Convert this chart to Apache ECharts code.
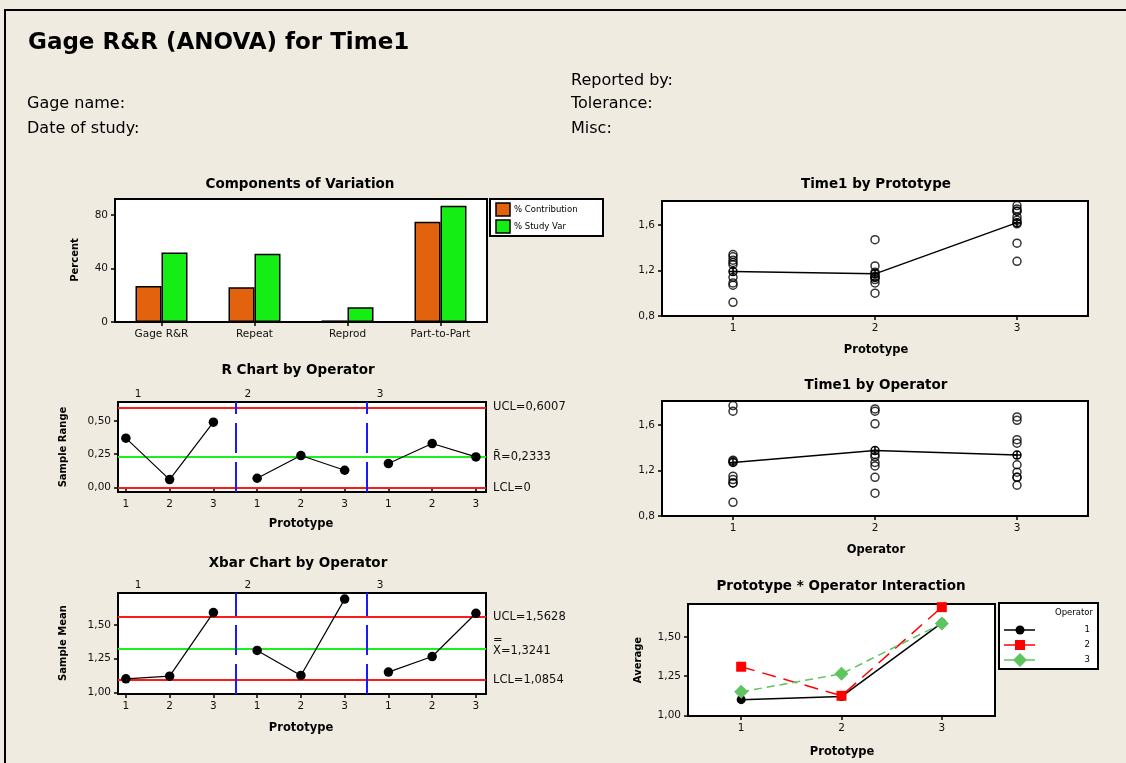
<!DOCTYPE html>
<html>
<head>
<meta charset="utf-8">
<script src="https://cdn.jsdelivr.net/npm/echarts@6/dist/echarts.min.js"></script>
<style>
  html, body { margin: 0; padding: 0; background: #EFEBE1; }
  #main { width: 1126px; height: 763px; }
</style>
</head>
<body>
<div id="main"></div>
<script>
// ---- Study data -------------------------------------------------------
const components = ['Gage R&R', 'Repeat', 'Reprod', 'Part-to-Part'];
const pctContribution = [27, 26, 1.2, 75];
const pctStudyVar = [52, 51, 11, 87];

const operators = ['1', '2', '3'];
const prototypes = ['1', '2', '3'];

// Three repeated timings for each prototype, one list per operator
const trialsOp1 = [[0.92, 1.09, 1.29], [1.09, 1.12, 1.15], [1.28, 1.72, 1.77]];
const trialsOp2 = [[1.27, 1.32, 1.34], [1.00, 1.14, 1.24], [1.61, 1.72, 1.74]];
const trialsOp3 = [[1.07, 1.14, 1.25], [1.14, 1.185, 1.47], [1.44, 1.64, 1.67]];

const prototypeMeans = [1.19, 1.17, 1.62];
const operatorMeans = [1.27, 1.375, 1.335];

// Subgroup ranges and means (operator x prototype)
const rangesOp1 = [0.37, 0.06, 0.49];
const rangesOp2 = [0.07, 0.24, 0.13];
const rangesOp3 = [0.18, 0.33, 0.23];
const meansOp1 = [1.10, 1.12, 1.59];
const meansOp2 = [1.31, 1.125, 1.69];
const meansOp3 = [1.15, 1.265, 1.585];

// Control limits
const rUCL = 0.6007, rBar = 0.2333, rLCL = 0;
const xUCL = 1.5628, xBarBar = 1.3241, xLCL = 1.0854;

// Tick values
const percentTicks = [0, 40, 80];
const timeTicks = [0.8, 1.2, 1.6];
const rangeTicks = [0, 0.25, 0.5];
const meanTicks = [1, 1.25, 1.5];

// ---- Helpers ----------------------------------------------------------
const FONT = '"DejaVu Sans", sans-serif';
const INK = '#111';
const fmt = (v, d) => v.toFixed(d).replace('.', ',');

const trials = [trialsOp1, trialsOp2, trialsOp3];
const ranges = [rangesOp1, rangesOp2, rangesOp3];
const means = [meansOp1, meansOp2, meansOp3];

// where the operator captions sit along the subgroup axis
const opCaptionAt = [1.28, 3.79, 6.81];

function txt(x, y, s, o) {
  o = o || {};
  const font = (o.bold ? 'bold ' : '') + (o.size || 12) + 'px ' + FONT;
  return {
    type: 'text', x: x, y: y, rotation: o.rot || 0, silent: true, z: 10,
    style: {
      text: s, font: font, fill: o.color || '#000',
      align: o.align || 'left', verticalAlign: o.valign || 'middle',
      textAlign: o.align || 'left', textVerticalAlign: o.valign || 'middle'
    }
  };
}

function valueAxis(grid, min, max, ticks, formatter, extra) {
  return Object.assign({
    type: 'value', gridIndex: grid, min: min, max: max,
    axisLine: { show: false },
    splitLine: { show: false },
    axisTick: { show: true, length: 4, lineStyle: { color: '#000', width: 1.5 }, customValues: ticks },
    axisLabel: { customValues: ticks, formatter: formatter, fontSize: 10.5, color: INK, fontFamily: FONT, margin: 7 }
  }, extra || {});
}

function opTopAxis(grid, min, max) {
  return {
    type: 'value', gridIndex: grid, position: 'top', min: min, max: max,
    axisLine: { show: false }, splitLine: { show: false },
    axisTick: { show: false },
    axisLabel: { customValues: opCaptionAt,
      formatter: v => operators[opCaptionAt.indexOf(v)],
      fontSize: 10.5, color: INK, fontFamily: FONT, margin: 2 }
  };
}

const gridStyle = { show: true, backgroundColor: '#fff', borderColor: '#000', borderWidth: 2 };

// ---- Series -----------------------------------------------------------
const series = [];

series.push({
  type: 'bar', name: '% Contribution', xAxisIndex: 0, yAxisIndex: 0,
  data: pctContribution, barWidth: 26, barGap: '0%',
  itemStyle: { color: '#E2620E', borderColor: '#000', borderWidth: 1.5 }
});
series.push({
  type: 'bar', name: '% Study Var', xAxisIndex: 0, yAxisIndex: 0,
  data: pctStudyVar, barWidth: 26, barGap: '0%',
  itemStyle: { color: '#14EE14', borderColor: '#000', borderWidth: 1.5 }
});

const ringStyle = { color: 'rgba(0,0,0,0)', borderColor: '#000', borderWidth: 1.5 };
const crossCircle = 'path://M10 0A10 10 0 1 1 10 20A10 10 0 1 1 10 0ZM0 10L20 10M10 0L10 20';

// Time1 by Prototype
const byProto = [];
trials.forEach(op => op.forEach((vals, p) => vals.forEach(v => byProto.push([p + 1, v]))));
series.push({ type: 'scatter', xAxisIndex: 1, yAxisIndex: 1, data: byProto,
  symbol: 'circle', symbolSize: 8, itemStyle: ringStyle, z: 3 });
series.push({ type: 'line', xAxisIndex: 1, yAxisIndex: 1,
  data: prototypeMeans.map((m, i) => [i + 1, m]),
  symbol: crossCircle, symbolSize: 8, itemStyle: ringStyle,
  lineStyle: { color: '#000', width: 1.5 }, z: 4 });

// Time1 by Operator
const byOp = [];
trials.forEach((op, o) => op.forEach(vals => vals.forEach(v => byOp.push([o + 1, v]))));
series.push({ type: 'scatter', xAxisIndex: 4, yAxisIndex: 3, data: byOp,
  symbol: 'circle', symbolSize: 8, itemStyle: ringStyle, z: 3 });
series.push({ type: 'line', xAxisIndex: 4, yAxisIndex: 3,
  data: operatorMeans.map((m, i) => [i + 1, m]),
  symbol: crossCircle, symbolSize: 8, itemStyle: ringStyle,
  lineStyle: { color: '#000', width: 1.5 }, z: 4 });

// Control charts
const redLine = { color: '#FF1A1A', width: 2, type: 'solid' };
const greenLine = { color: '#1AF01A', width: 2, type: 'solid' };
const blueDash = { color: '#1A1AFF', width: 2, type: [30, 9] };
const labelBase = { show: true, position: 'end', distance: 7, fontSize: 11.5, color: INK, fontFamily: FONT };

function controlSeries(xi, yi, groups, limits) {
  groups.forEach((vals, o) => {
    const s = {
      type: 'line', xAxisIndex: xi, yAxisIndex: yi,
      data: vals.map((v, p) => [o * 3 + p + 1, v]),
      symbol: 'circle', symbolSize: 9.5,
      itemStyle: { color: '#000' }, lineStyle: { color: '#000', width: 1.2 }, z: 5
    };
    if (o === 0) {
      s.markLine = {
        silent: true, symbol: 'none', animation: false,
        data: limits.concat([
          { xAxis: 3.5, lineStyle: blueDash, label: { show: false } },
          { xAxis: 6.5, lineStyle: blueDash, label: { show: false } }
        ])
      };
    }
    series.push(s);
  });
}

controlSeries(2, 2, ranges, [
  { yAxis: rUCL, lineStyle: redLine, label: Object.assign({}, labelBase, { formatter: 'UCL=' + fmt(rUCL, 4) }) },
  { yAxis: rBar, lineStyle: greenLine, label: Object.assign({}, labelBase, { formatter: 'R\u0304=' + fmt(rBar, 4) }) },
  { yAxis: rLCL, lineStyle: redLine, label: Object.assign({}, labelBase, { formatter: 'LCL=' + (rLCL === 0 ? '0' : fmt(rLCL, 4)) }) }
]);

controlSeries(5, 4, means, [
  { yAxis: xUCL, lineStyle: redLine, label: Object.assign({}, labelBase, { formatter: 'UCL=' + fmt(xUCL, 4) }) },
  { yAxis: xBarBar, lineStyle: greenLine, label: Object.assign({}, labelBase, {
      formatter: '{e|=}\n{v|X=' + fmt(xBarBar, 4) + '}\n{s| }',
      rich: {
        e: { fontSize: 11.5, lineHeight: 9, fontFamily: FONT, color: INK },
        v: { fontSize: 11.5, lineHeight: 14, fontFamily: FONT, color: INK },
        s: { fontSize: 4, lineHeight: 5 }
      } }) },
  { yAxis: xLCL, lineStyle: redLine, label: Object.assign({}, labelBase, { formatter: 'LCL=' + fmt(xLCL, 4) }) }
]);

// Prototype * Operator interaction
const interactionStyles = [
  { color: '#000', symbol: 'circle', size: 9, type: 'solid' },
  { color: '#FF0000', symbol: 'rect', size: 10, type: [14, 8] },
  { color: '#5FC35F', symbol: 'diamond', size: 14, type: [8, 5] }
];
means.forEach((vals, o) => {
  const st = interactionStyles[o];
  series.push({
    type: 'line', xAxisIndex: 7, yAxisIndex: 5,
    data: vals.map((v, p) => [p + 1, v]),
    symbol: st.symbol, symbolSize: st.size,
    itemStyle: { color: st.color },
    lineStyle: { color: st.color, width: 1.5, type: st.type }, z: 5 + o
  });
});

// ---- Static texts, frame and legends ----------------------------------
const graphic = [
  { type: 'rect', shape: { x: 5, y: 10, width: 1300, height: 900 }, silent: true, z: 0,
    style: { fill: 'none', stroke: '#000', lineWidth: 2 } },
  txt(28, 43, 'Gage R&R (ANOVA) for Time1', { bold: true, size: 23 }),
  txt(27, 104, 'Gage name:', { size: 16 }),
  txt(27, 129, 'Date of study:', { size: 16 }),
  txt(571, 81, 'Reported by:', { size: 16 }),
  txt(571, 104, 'Tolerance:', { size: 16 }),
  txt(571, 129, 'Misc:', { size: 16 }),

  txt(300, 184, 'Components of Variation', { bold: true, size: 13.5, align: 'center' }),
  txt(876, 184, 'Time1 by Prototype', { bold: true, size: 13.5, align: 'center' }),
  txt(298, 370, 'R Chart by Operator', { bold: true, size: 13.5, align: 'center' }),
  txt(876, 385, 'Time1 by Operator', { bold: true, size: 13.5, align: 'center' }),
  txt(298, 563, 'Xbar Chart by Operator', { bold: true, size: 13.5, align: 'center' }),
  txt(841, 586, 'Prototype * Operator Interaction', { bold: true, size: 13.5, align: 'center' }),

  txt(75, 260, 'Percent', { bold: true, size: 10, align: 'center', rot: Math.PI / 2 }),
  txt(63, 447, 'Sample Range', { bold: true, size: 10, align: 'center', rot: Math.PI / 2 }),
  txt(63, 643, 'Sample Mean', { bold: true, size: 10, align: 'center', rot: Math.PI / 2 }),
  txt(638, 660, 'Average', { bold: true, size: 10, align: 'center', rot: Math.PI / 2 }),

  txt(876, 350, 'Prototype', { bold: true, size: 11.5, align: 'center' }),
  txt(301, 524, 'Prototype', { bold: true, size: 11.5, align: 'center' }),
  txt(876, 550, 'Operator', { bold: true, size: 11.5, align: 'center' }),
  txt(301, 728, 'Prototype', { bold: true, size: 11.5, align: 'center' }),
  txt(842, 752, 'Prototype', { bold: true, size: 11.5, align: 'center' }),

  // legend for the variation components
  { type: 'rect', shape: { x: 490, y: 199, width: 113, height: 37 }, silent: true, z: 5,
    style: { fill: '#fff', stroke: '#000', lineWidth: 2 } },
  { type: 'rect', shape: { x: 496, y: 203, width: 14, height: 13 }, silent: true, z: 6,
    style: { fill: '#E2620E', stroke: '#000', lineWidth: 1.5 } },
  { type: 'rect', shape: { x: 496, y: 220, width: 14, height: 13 }, silent: true, z: 6,
    style: { fill: '#14EE14', stroke: '#000', lineWidth: 1.5 } },
  txt(514, 210, '% Contribution', { size: 8.5 }),
  txt(514, 227, '% Study Var', { size: 8.5 }),

  // legend for the operators
  { type: 'rect', shape: { x: 999, y: 603, width: 99, height: 66 }, silent: true, z: 5,
    style: { fill: '#fff', stroke: '#000', lineWidth: 2 } },
  txt(1093, 613, 'Operator', { size: 8.5, align: 'right' })
];

const legendRows = [630, 645, 660];
interactionStyles.forEach((st, i) => {
  const y = legendRows[i];
  graphic.push({ type: 'line', shape: { x1: 1004, y1: y, x2: 1035, y2: y }, silent: true, z: 6,
    style: { stroke: st.color, lineWidth: 1.5 } });
  if (st.symbol === 'circle') {
    graphic.push({ type: 'circle', shape: { cx: 1020, cy: y, r: 4.5 }, silent: true, z: 7, style: { fill: st.color } });
  } else if (st.symbol === 'rect') {
    graphic.push({ type: 'rect', shape: { x: 1015, y: y - 5, width: 10, height: 10 }, silent: true, z: 7, style: { fill: st.color } });
  } else {
    graphic.push({ type: 'polygon', shape: { points: [[1020, y - 7], [1027, y], [1020, y + 7], [1013, y]] }, silent: true, z: 7, style: { fill: st.color } });
  }
  graphic.push(txt(1090, y, operators[i], { size: 8.5, align: 'right' }));
});

// ---- Option -------------------------------------------------------------
const option = {
  animation: false,
  backgroundColor: '#EFEBE1',
  grid: [
    Object.assign({ left: 115, top: 199, width: 372, height: 123 }, gridStyle),
    Object.assign({ left: 662, top: 201, width: 426, height: 115 }, gridStyle),
    Object.assign({ left: 118, top: 402, width: 368, height: 90 }, gridStyle),
    Object.assign({ left: 662, top: 401, width: 426, height: 115 }, gridStyle),
    Object.assign({ left: 118, top: 593, width: 368, height: 101 }, gridStyle),
    Object.assign({ left: 688, top: 604, width: 307, height: 112 }, gridStyle)
  ],
  xAxis: [
    {
      type: 'category', gridIndex: 0, data: components,
      axisLine: { show: false }, splitLine: { show: false },
      axisTick: { show: true, alignWithLabel: true, length: 4, lineStyle: { color: '#000', width: 1.5 } },
      axisLabel: { fontSize: 10.5, color: INK, fontFamily: FONT, margin: 7, interval: 0 }
    },
    valueAxis(1, 0.5, 3.5, [1, 2, 3], v => prototypes[Math.round(v) - 1]),
    valueAxis(2, 0.82, 9.23, [1, 2, 3, 4, 5, 6, 7, 8, 9], v => prototypes[(Math.round(v) - 1) % 3]),
    opTopAxis(2, 0.82, 9.23),
    valueAxis(3, 0.5, 3.5, [1, 2, 3], v => operators[Math.round(v) - 1]),
    valueAxis(4, 0.82, 9.23, [1, 2, 3, 4, 5, 6, 7, 8, 9], v => prototypes[(Math.round(v) - 1) % 3]),
    opTopAxis(4, 0.82, 9.23),
    valueAxis(5, 0.47, 3.53, [1, 2, 3], v => prototypes[Math.round(v) - 1])
  ],
  yAxis: [
    valueAxis(0, 0, 92, percentTicks, v => String(v)),
    valueAxis(1, 0.8, 1.81, timeTicks, v => fmt(v, 1)),
    valueAxis(2, -0.033, 0.641, rangeTicks, v => fmt(v, 2)),
    valueAxis(3, 0.8, 1.81, timeTicks, v => fmt(v, 1)),
    valueAxis(4, 0.988, 1.735, meanTicks, v => fmt(v, 2)),
    valueAxis(5, 0.996, 1.71, meanTicks, v => fmt(v, 2))
  ],
  series: series,
  graphic: graphic
};

const chart = echarts.init(document.getElementById('main'));
chart.setOption(option);
</script>
</body>
</html>
